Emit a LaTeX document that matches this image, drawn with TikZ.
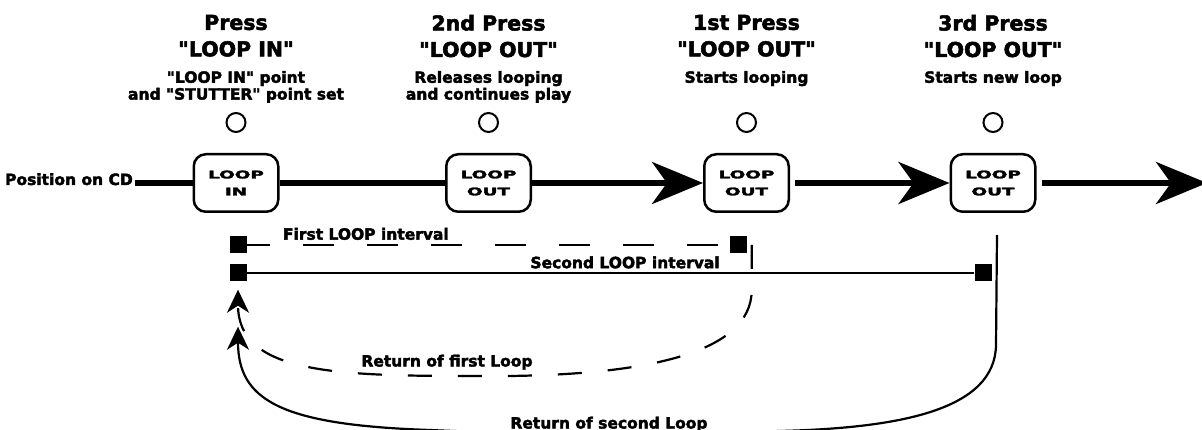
\documentclass[tikz,border=0pt]{standalone}
\usepackage{fontspec}
\newfontfamily\diagfont{DejaVu Sans}[BoldFeatures={FakeBold=2.5}]
\usepackage{tikz}
\usetikzlibrary{arrows.meta}
\usetikzlibrary{positioning}

\begin{document}
\begin{tikzpicture}[
      x=1pt, y=-1pt,
      lbl/.style={font=\diagfont\fontsize{15.5}{18}\selectfont\bfseries, inner sep=0pt},
      title_lbl/.style={font=\diagfont\fontsize{20.5}{26.5}\selectfont\bfseries, align=center, inner sep=0pt},
      sub_lbl/.style={font=\diagfont\fontsize{15.5}{16.8}\selectfont\bfseries, align=center, inner sep=0pt},
      btn/.style={draw, line width=2.5pt, rounded corners=12pt, minimum width=84.5pt,
                  minimum height=57.5pt, inner sep=0pt, align=center,
                  font=\diagfont\fontsize{10.5}{17}\selectfont\bfseries},
      led/.style={draw, circle, line width=2pt, minimum size=19pt, inner sep=0pt},
      endsq/.style={fill, minimum size=17pt, inner sep=0pt},
      cd_line/.style={line width=5.5pt},
      cd_arrow/.style={cd_line, -{Stealth[length=51pt, width=42pt, inset=15pt]}},
      dash_line/.style={line width=2.2pt, dash pattern=on 31pt off 33pt, dash phase=8pt},
      ret_line/.style={line width=2.2pt, -{Stealth[length=23pt, width=22pt, inset=7pt]}},
      dash_ret/.style={ret_line, dash pattern=on 24pt off 26pt}
  ]

  \useasboundingbox (0,0) rectangle (1202,430);
  \clip (0,0) rectangle (1202,430);

  % 1. Tasti, spie e titoli
  \foreach \i/\x/\ttl/\sub/\key in {
      1/236/{Press\\"LOOP IN"}/{"LOOP IN" point\\and "STUTTER" point set}/IN,
      2/488.5/{2nd Press\\"LOOP OUT"}/{Releases looping\\and continues play}/OUT,
      3/746.5/{1st Press\\"LOOP OUT"}/{Starts looping}/OUT,
      4/993/{3rd Press\\"LOOP OUT"}/{Starts new loop}/OUT} {
    \node[btn] (btn\i) at (\x,183) {\scalebox{1.75}[1]{LOOP}\\\scalebox{1.75}[1]{\key}};
    \node[led, above=20pt of btn\i] (led\i) {};
    \node[title_lbl, anchor=north] (ttl\i) at (\x,14.7) {\ttl};
    \node[sub_lbl, anchor=north] (sub\i) at (\x,70.8) {\sub};
  }

  % 2. Linea della posizione sul CD
  \node[lbl, anchor=base east] (cdpos) at (133,185) {Position on CD};
  \coordinate (cd_end) at (1207,183);
  \draw[cd_line, shorten <=2pt] (cdpos.east |- btn1.west) -- (btn1.west);
  \draw[cd_line] (btn1) -- (btn2);
  \draw[cd_arrow] (btn2) -- (btn3);
  \draw[cd_arrow, shorten <=5pt] (btn3) -- (btn4);
  \draw[cd_arrow, shorten <=5pt] (btn4) -- (cd_end);

  % 3. Intervalli del loop
  \node[endsq] (inA)  at (238,245) {};
  \node[endsq] (inB)  at (238,273) {};
  \node[endsq] (outA) at (738,245) {};
  \node[endsq] (outB) at (983,273) {};
  \draw[dash_line] (inA) -- (outA) node[lbl, pos=0.247, above=4pt] {First LOOP interval};
  \draw[line width=2.2pt] (inB) -- (outB) node[lbl, pos=0.52, above=3.5pt] {Second LOOP interval};

  % 4. Ritorni
  \draw[dash_ret] ([xshift=5pt]outA.east) -- ++(0,45)
    .. controls +(0,65) and (640,378) .. (470,376)
    .. controls (330,376) and (238,372) .. ([yshift=-8pt]inB.south);
  \node[lbl, anchor=base] (ret1_lbl) at (447,366.5) {Return of first Loop};

  \coordinate (ret2_top) at (997,235);
  \draw[ret_line] (ret2_top) -- (996,345)
    .. controls (995,410) and (900,428) .. (780,431)
    .. controls (650,435) and (540,435) .. (430,430)
    .. controls (280,425) and (238,400) .. ([yshift=-45pt]inB.south);
  \node[lbl, anchor=base] (ret2_lbl) at (609,428.5) {Return of second Loop};

\end{tikzpicture}
\end{document}
